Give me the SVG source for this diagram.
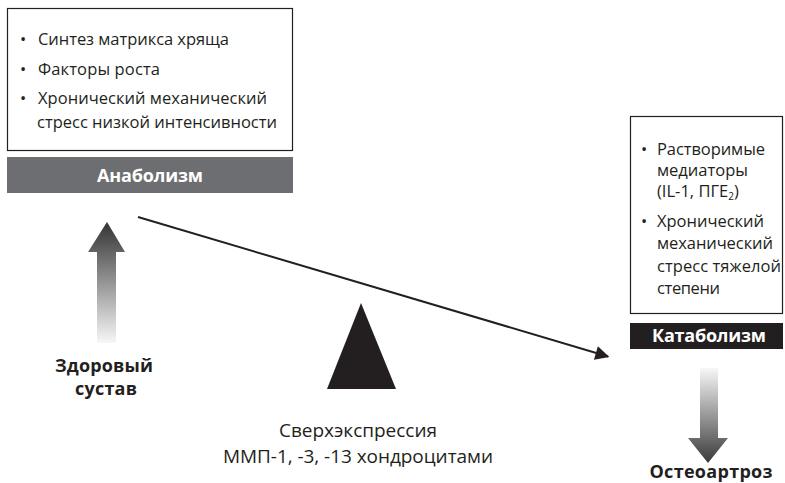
<svg xmlns="http://www.w3.org/2000/svg" width="785" height="483" viewBox="0 0 785 483">
<style>
text{font-family:"Open Sans","Liberation Sans",sans-serif;fill:#231f20}
.t{font-size:16.5px}
.m{font-size:19px}
.b{font-weight:bold;font-size:18px}
.w{fill:#ffffff}
.box{fill:#ffffff;stroke:#231f20;stroke-width:1.2}
</style>
<defs>
<linearGradient id="gUp" x1="0" y1="0" x2="0" y2="1">
<stop offset="0" stop-color="#333333"/>
<stop offset="1" stop-color="#f7f7f7"/>
</linearGradient>
<linearGradient id="gDown" x1="0" y1="0" x2="0" y2="1">
<stop offset="0" stop-color="#f7f7f7"/>
<stop offset="1" stop-color="#3a3a3a"/>
</linearGradient>
<marker id="ah" viewBox="0 0 10 10" refX="9" refY="5" markerWidth="9" markerHeight="7" markerUnits="strokeWidth" orient="auto">
<path d="M0,0 L10,5 L0,10 Z" fill="#231f20"/>
</marker>
</defs>
<g id="anabolism-box">
<rect class="box" x="7.5" y="8.5" width="285" height="142"/>
<text class="t" x="20" y="45">•</text>
<text class="t" x="38" y="45" textLength="191">Синтез матрикса хряща</text>
<text class="t" x="20" y="75">•</text>
<text class="t" x="38" y="75" textLength="122">Факторы роста</text>
<text class="t" x="20" y="104">•</text>
<text class="t" x="38" y="104" textLength="229">Хронический механический</text>
<text class="t" x="37" y="128" textLength="240">стресс низкой интенсивности</text>
</g>
<g id="anabolism">
<rect x="7" y="157" width="286" height="36" fill="#6d6e71"/>
<text class="b w" x="150" y="182" text-anchor="middle" textLength="106">Анаболизм</text>
</g>
<g id="catabolism-box">
<rect class="box" x="630.5" y="116.5" width="152" height="197"/>
<text class="t" x="641" y="155">•</text>
<text class="t" x="657" y="155" textLength="108">Растворимые</text>
<text class="t" x="657" y="176">медиаторы</text>
<text class="t" x="657" y="197">(IL-1, ПГЕ<tspan font-size="10" dy="3">2</tspan><tspan dy="-3">)</tspan></text>
<text class="t" x="641" y="227">•</text>
<text class="t" x="657" y="227" textLength="107">Хронический</text>
<text class="t" x="657" y="249" textLength="116">механический</text>
<text class="t" x="657" y="272" textLength="124">стресс тяжелой</text>
<text class="t" x="657" y="294" textLength="63">степени</text>
</g>
<g id="catabolism">
<rect x="630" y="323" width="153" height="26" fill="#231f20"/>
<text class="b w" x="709" y="342" text-anchor="middle" textLength="114">Катаболизм</text>
</g>
<g id="healthy-joint">
<polygon points="107,222 125,252 116,252 116,343 97,343 97,252 88,252" fill="url(#gUp)"/>
<text class="b" x="104" y="372" text-anchor="middle" textLength="98">Здоровый</text>
<text class="b" x="106" y="395" text-anchor="middle" textLength="62">сустав</text>
</g>
<g id="fulcrum">
<polygon points="361,303 396,389 327,389" fill="#231f20"/>
<text class="m" x="358" y="437" text-anchor="middle" textLength="158">Сверхэкспрессия</text>
<text class="m" x="358" y="463" text-anchor="middle" textLength="270">ММП-1, -3, -13 хондроцитами</text>
</g>
<g id="osteoarthritis">
<polygon points="700,368 718,368 718,438 728,438 708,463 688,438 700,438" fill="url(#gDown)"/>
<text class="b" x="711" y="478" text-anchor="middle" textLength="123">Остеоартроз</text>
</g>
<g id="connectors">
<line x1="138" y1="217" x2="608" y2="356.5" stroke="#231f20" stroke-width="2" marker-end="url(#ah)"/>
</g>
</svg>
